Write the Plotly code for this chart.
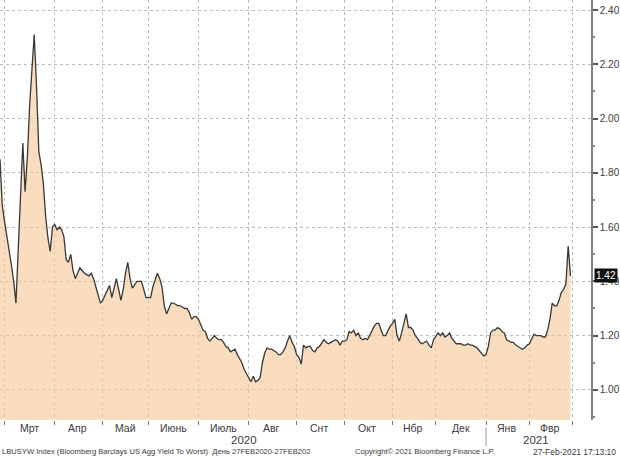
import plotly.graph_objects as go

# ---- data (trading days, Bloomberg Barclays US Agg Yield To Worst, %) ----
dates = [
    "2020-02-27", "2020-02-28",
    "2020-03-02", "2020-03-03", "2020-03-04", "2020-03-05", "2020-03-06", "2020-03-09", "2020-03-10",
    "2020-03-11", "2020-03-12", "2020-03-13", "2020-03-16", "2020-03-17", "2020-03-18", "2020-03-19",
    "2020-03-20", "2020-03-23", "2020-03-24", "2020-03-25", "2020-03-26", "2020-03-27", "2020-03-30",
    "2020-03-31",
    "2020-04-01", "2020-04-02", "2020-04-03", "2020-04-06", "2020-04-07", "2020-04-08", "2020-04-09",
    "2020-04-13", "2020-04-14", "2020-04-15", "2020-04-16", "2020-04-17", "2020-04-20", "2020-04-21",
    "2020-04-22", "2020-04-23", "2020-04-24", "2020-04-27", "2020-04-28", "2020-04-29", "2020-04-30",
    "2020-05-01", "2020-05-04", "2020-05-05", "2020-05-06", "2020-05-07", "2020-05-08", "2020-05-11",
    "2020-05-12", "2020-05-13", "2020-05-14", "2020-05-15", "2020-05-18", "2020-05-19", "2020-05-20",
    "2020-05-21", "2020-05-22", "2020-05-26", "2020-05-27", "2020-05-28", "2020-05-29",
    "2020-06-01", "2020-06-02", "2020-06-03", "2020-06-04", "2020-06-05", "2020-06-08", "2020-06-09",
    "2020-06-10", "2020-06-11", "2020-06-12", "2020-06-15", "2020-06-16", "2020-06-17", "2020-06-18",
    "2020-06-19", "2020-06-22", "2020-06-23", "2020-06-24", "2020-06-25", "2020-06-26", "2020-06-29",
    "2020-06-30",
    "2020-07-01", "2020-07-02", "2020-07-06", "2020-07-07", "2020-07-08", "2020-07-09", "2020-07-10",
    "2020-07-13", "2020-07-14", "2020-07-15", "2020-07-16", "2020-07-17", "2020-07-20", "2020-07-21",
    "2020-07-22", "2020-07-23", "2020-07-24", "2020-07-27", "2020-07-28", "2020-07-29", "2020-07-30",
    "2020-07-31",
    "2020-08-03", "2020-08-04", "2020-08-05", "2020-08-06", "2020-08-07", "2020-08-10", "2020-08-11",
    "2020-08-12", "2020-08-13", "2020-08-14", "2020-08-17", "2020-08-18", "2020-08-19", "2020-08-20",
    "2020-08-21", "2020-08-24", "2020-08-25", "2020-08-26", "2020-08-27", "2020-08-28", "2020-08-31",
    "2020-09-01", "2020-09-02", "2020-09-03", "2020-09-04", "2020-09-08", "2020-09-09", "2020-09-10",
    "2020-09-11", "2020-09-14", "2020-09-15", "2020-09-16", "2020-09-17", "2020-09-18", "2020-09-21",
    "2020-09-22", "2020-09-23", "2020-09-24", "2020-09-25", "2020-09-28", "2020-09-29", "2020-09-30",
    "2020-10-01", "2020-10-02", "2020-10-05", "2020-10-06", "2020-10-07", "2020-10-08", "2020-10-09",
    "2020-10-13", "2020-10-14", "2020-10-15", "2020-10-16", "2020-10-19", "2020-10-20", "2020-10-21",
    "2020-10-22", "2020-10-23", "2020-10-26", "2020-10-27", "2020-10-28", "2020-10-29", "2020-10-30",
    "2020-11-02", "2020-11-03", "2020-11-04", "2020-11-05", "2020-11-06", "2020-11-09", "2020-11-10",
    "2020-11-12", "2020-11-13", "2020-11-16", "2020-11-17", "2020-11-18", "2020-11-19", "2020-11-20",
    "2020-11-23", "2020-11-24", "2020-11-25", "2020-11-27", "2020-11-30",
    "2020-12-01", "2020-12-02", "2020-12-03", "2020-12-04", "2020-12-07", "2020-12-08", "2020-12-09",
    "2020-12-10", "2020-12-11", "2020-12-14", "2020-12-15", "2020-12-16", "2020-12-17", "2020-12-18",
    "2020-12-21", "2020-12-22", "2020-12-23", "2020-12-24", "2020-12-28", "2020-12-29", "2020-12-30",
    "2020-12-31",
    "2021-01-04", "2021-01-05", "2021-01-06", "2021-01-07", "2021-01-08", "2021-01-11", "2021-01-12",
    "2021-01-13", "2021-01-14", "2021-01-15", "2021-01-19", "2021-01-20", "2021-01-21", "2021-01-22",
    "2021-01-25", "2021-01-26", "2021-01-27", "2021-01-28", "2021-01-29",
    "2021-02-01", "2021-02-02", "2021-02-03", "2021-02-04", "2021-02-05", "2021-02-08", "2021-02-09",
    "2021-02-10", "2021-02-11", "2021-02-12", "2021-02-16", "2021-02-17", "2021-02-18", "2021-02-19",
    "2021-02-22", "2021-02-23", "2021-02-24", "2021-02-25", "2021-02-26",
]
values = [
    1.85, 1.68,
    1.62, 1.57, 1.52, 1.46, 1.40, 1.32, 1.52,
    1.70, 1.91, 1.73, 1.86, 2.05, 2.20, 2.31,
    2.12, 1.88, 1.83, 1.76, 1.64, 1.56, 1.51,
    1.60,
    1.61, 1.59, 1.60, 1.59, 1.565, 1.48, 1.47,
    1.50, 1.44, 1.41, 1.43, 1.45, 1.44, 1.43,
    1.425, 1.42, 1.43, 1.41, 1.38, 1.35, 1.32,
    1.33, 1.35, 1.37, 1.385, 1.34, 1.37, 1.41,
    1.37, 1.33, 1.37, 1.43, 1.47, 1.41, 1.375,
    1.39, 1.40, 1.40, 1.40, 1.37, 1.34,
    1.34, 1.34, 1.38, 1.41, 1.43, 1.41, 1.38,
    1.31, 1.28, 1.30, 1.32, 1.32, 1.315, 1.31,
    1.31, 1.305, 1.30, 1.30, 1.285, 1.26, 1.27,
    1.27,
    1.26, 1.24, 1.22, 1.215, 1.19, 1.18, 1.19,
    1.20, 1.19, 1.185, 1.185, 1.175, 1.16, 1.155,
    1.14, 1.145, 1.15, 1.13, 1.115, 1.10, 1.075,
    1.06,
    1.045, 1.03, 1.05, 1.03, 1.035, 1.045, 1.10,
    1.135, 1.155, 1.15, 1.15, 1.145, 1.14, 1.13,
    1.13, 1.14, 1.155, 1.18, 1.20, 1.175, 1.16,
    1.13, 1.12, 1.095, 1.165, 1.155, 1.16, 1.16,
    1.145, 1.14, 1.155, 1.16, 1.175, 1.185, 1.175,
    1.17, 1.175, 1.18, 1.185, 1.18, 1.165, 1.18,
    1.18, 1.185, 1.215, 1.21, 1.22, 1.20, 1.21,
    1.19, 1.185, 1.19, 1.185, 1.20, 1.22, 1.235,
    1.245, 1.245, 1.22, 1.20, 1.20, 1.22, 1.235,
    1.245, 1.26, 1.20, 1.18, 1.21, 1.25, 1.28,
    1.23, 1.23, 1.22, 1.20, 1.19, 1.175, 1.17,
    1.175, 1.18, 1.165, 1.155, 1.185,
    1.20, 1.21, 1.20, 1.21, 1.195, 1.20, 1.21,
    1.19, 1.18, 1.17, 1.17, 1.17, 1.165, 1.165,
    1.17, 1.165, 1.165, 1.16, 1.155, 1.145, 1.135,
    1.125,
    1.13, 1.16, 1.21, 1.22, 1.22, 1.23, 1.225,
    1.215, 1.21, 1.185, 1.18, 1.175, 1.175, 1.165,
    1.16, 1.155, 1.15, 1.155, 1.165,
    1.17, 1.19, 1.205, 1.20, 1.20, 1.20, 1.195,
    1.195, 1.22, 1.26, 1.32, 1.31, 1.31, 1.33,
    1.36, 1.37, 1.39, 1.53, 1.42,
]

# market holidays (no trading, collapsed on the axis)
holidays = ["2020-04-10", "2020-05-25", "2020-07-03", "2020-09-07", "2020-10-12",
            "2020-11-11", "2020-11-26", "2020-12-25", "2021-01-01", "2021-01-18", "2021-02-15"]

month_starts = ["2020-03-02", "2020-04-01", "2020-05-01", "2020-06-01", "2020-07-01", "2020-08-03",
                "2020-09-01", "2020-10-01", "2020-11-02", "2020-12-01", "2021-01-04", "2021-02-01",
                "2021-03-01"]
month_label_dates = ["2020-03-17", "2020-04-16", "2020-05-15", "2020-06-16", "2020-07-17", "2020-08-17",
                     "2020-09-16", "2020-10-16", "2020-11-16", "2020-12-16", "2021-01-15", "2021-02-12"]
month_labels = ["Мрт", "Апр", "Май", "Июнь", "Июль", "Авг", "Снт", "Окт", "Нбр", "Дек", "Янв", "Фвр"]
year_label_dates = ["2020-07-30", "2021-02-04"]
year_labels = ["2020", "2021"]
year_split = "2021-01-04"

y_ticks = [1.0, 1.2, 1.4, 1.6, 1.8, 2.0, 2.2, 2.4]
y_ticktext = ["1.00", "1.20", "1.40", "1.60", "1.80", "2.00", "2.20", "2.40"]
last_value_text = "1.42"

footer_left = "LBUSYW Index (Bloomberg Barclays US Agg Yield To Worst)  День 27FEB2020-27FEB202"
footer_mid = "Copyright© 2021 Bloomberg Finance L.P."
footer_right = "27-Feb-2021 17:13:10"

FONT = "Liberation Sans, Arial, sans-serif"
TXT = "#3a3a3a"
GRID = "#bdbdbd"

fig = go.Figure()
fig.add_trace(go.Scatter(
    x=dates, y=values, mode="lines",
    line=dict(color="#383838", width=1.3),
    fill="tozeroy", fillcolor="rgba(247,196,146,0.6)",
    hoverinfo="skip", showlegend=False,
))

ann = []
for d, t in zip(month_label_dates, month_labels):
    ann.append(dict(x=d, xref="x", y=-0.018, yref="paper", text=t, showarrow=False,
                    xanchor="center", yanchor="middle", font=dict(family=FONT, size=10.5, color=TXT)))
for d, t in zip(year_label_dates, year_labels):
    ann.append(dict(x=d, xref="x", y=-0.048, yref="paper", text=t, showarrow=False,
                    xanchor="center", yanchor="middle", font=dict(family=FONT, size=11.5, color=TXT)))
ann.append(dict(x=0.0, xref="paper", y=-0.076, yref="paper", text=footer_left, showarrow=False,
                xanchor="left", yanchor="middle", font=dict(family=FONT, size=7.6, color=TXT)))
ann.append(dict(x=0.598, xref="paper", y=-0.076, yref="paper", text=footer_mid, showarrow=False,
                xanchor="left", yanchor="middle", font=dict(family=FONT, size=7.6, color=TXT)))
ann.append(dict(x=1.045, xref="paper", y=-0.076, yref="paper", text=footer_right, showarrow=False,
                xanchor="right", yanchor="middle", font=dict(family=FONT, size=8.4, color=TXT)))
ann.append(dict(x=1.0, xref="paper", xshift=3, y=values[-1], yref="y", text=last_value_text,
                showarrow=False, xanchor="left", yanchor="middle", bgcolor="#111111",
                borderpad=1, font=dict(family=FONT, size=10, color="white")))

fig.update_layout(
    width=620, height=457,
    margin=dict(l=0, r=29, t=0, b=37),
    paper_bgcolor="white", plot_bgcolor="white",
    annotations=ann,
    shapes=[dict(type="line", xref="x", yref="paper", x0=year_split, x1=year_split,
                 y0=-0.018, y1=-0.062, line=dict(color="#999999", width=1))],
    xaxis=dict(
        type="date",
        range=["2020-02-27", "2021-03-11"],
        rangebreaks=[dict(bounds=["sat", "mon"]), dict(values=holidays)],
        tickmode="array", tickvals=month_starts, ticktext=[""] * len(month_starts),
        ticks="outside", ticklen=4, tickcolor="#777777",
        showgrid=True, gridcolor=GRID, griddash="dot", gridwidth=1,
        showline=False, zeroline=False,
    ),
    yaxis=dict(
        side="right", range=[0.889, 2.437],
        tickmode="array", tickvals=y_ticks, ticktext=y_ticktext,
        ticks="outside", ticklen=5, tickwidth=2, tickcolor="#555555",
        minor=dict(dtick=0.1, tick0=0, ticks="outside", ticklen=2, tickcolor="#888888", showgrid=False),
        showgrid=True, gridcolor=GRID, griddash="dot", gridwidth=1,
        showline=True, linecolor="#808080", linewidth=1.5,
        tickfont=dict(family=FONT, size=10, color=TXT),
        zeroline=False,
    ),
)

fig.write_html("out.html", config={"displayModeBar": False},
               post_script="document.body.style.margin='0';document.body.style.overflow='hidden';")
